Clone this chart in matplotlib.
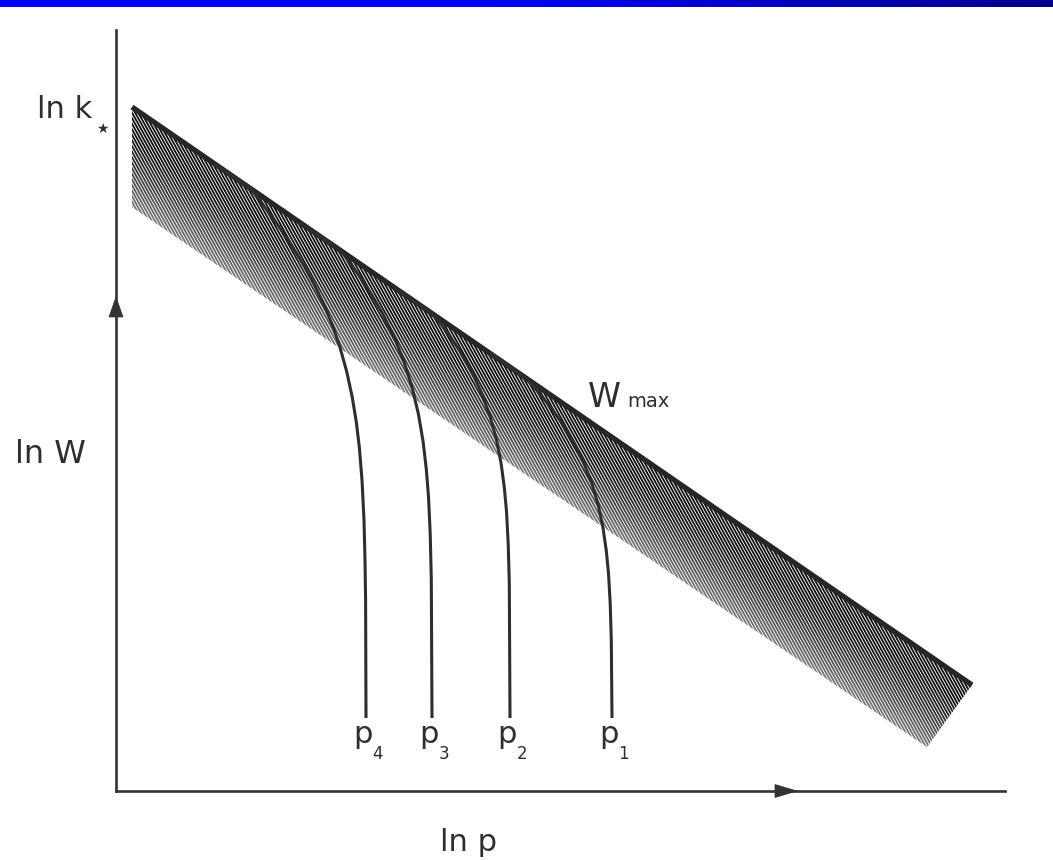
import numpy as np
import matplotlib
matplotlib.use("Agg")
import matplotlib.pyplot as plt
from matplotlib.collections import LineCollection
from matplotlib.patches import Polygon

# ---------------- data (ln p, ln W in arbitrary units, origin at axes crossing) ----
wmax_lnp = [0.16, 8.56]
wmax_lnW = [6.84, 1.06]
band_lower_lnp = [0.16, 8.11]
band_lower_lnW = [5.84, 0.44]

p4_lnp = [0.99, 1.16, 1.34, 1.434, 1.546, 1.653, 1.766, 1.876, 1.985, 2.081, 2.163,
          2.239, 2.308, 2.362, 2.403, 2.433, 2.460, 2.480, 2.490, 2.496, 2.50]
p4_lnW = [6.269, 6.152, 6.03, 5.91, 5.76, 5.61, 5.44, 5.26, 5.06, 4.86, 4.66,
          4.44, 4.19, 3.94, 3.69, 3.44, 3.11, 2.71, 2.31, 1.91, 0.73]
p3_lnp = [1.84, 2.04, 2.251, 2.334, 2.433, 2.554, 2.661, 2.776, 2.869, 2.958, 3.024,
          3.071, 3.103, 3.125, 3.142, 3.153, 3.16]
p3_lnW = [5.684, 5.547, 5.399, 5.289, 5.151, 4.967, 4.783, 4.553, 4.323, 4.047, 3.771,
          3.495, 3.219, 2.943, 2.575, 2.115, 0.73]
p2_lnp = [2.79, 2.98, 3.161, 3.244, 3.334, 3.441, 3.556, 3.649, 3.738, 3.804, 3.851,
          3.883, 3.905, 3.922, 3.933, 3.94]
p2_lnW = [5.031, 4.90, 4.78, 4.676, 4.556, 4.396, 4.196, 3.996, 3.756, 3.516, 3.276,
          3.036, 2.796, 2.476, 2.076, 0.73]
p1_lnp = [3.74, 3.92, 4.10, 4.181, 4.264, 4.354, 4.461, 4.576, 4.669, 4.758, 4.824,
          4.871, 4.903, 4.925, 4.942, 4.953, 4.96]
p1_lnW = [4.377, 4.253, 4.127, 4.037, 3.940, 3.827, 3.677, 3.490, 3.302, 3.077, 2.852,
          2.627, 2.402, 2.177, 1.877, 1.502, 0.73]

curve_names = ["4", "3", "2", "1"]
curves_lnp = [p4_lnp, p3_lnp, p2_lnp, p1_lnp]
curves_lnW = [p4_lnW, p3_lnW, p2_lnW, p1_lnW]

axis_x_end = 8.89
axis_y_end = 7.61

# ---------------- figure --------------------------------------------------------
W_PX, H_PX = 1053, 860
fig = plt.figure(figsize=(W_PX / 100, H_PX / 100), dpi=100)
fig.patch.set_facecolor("white")
ax = fig.add_axes([0, 0, 1, 1])
ax.set_xlim(-1.16, 9.37)
ax.set_ylim(-0.69, 7.91)
ax.axis("off")

ink = "#2e2e2e"
plt.rcParams["font.family"] = ["DejaVu Sans"]

# ---------------- hatched band under W_max ---------------------------------------
x0, y0 = wmax_lnp[0], wmax_lnW[0]
m_top = (wmax_lnW[1] - y0) / (wmax_lnp[1] - x0)
lx0, ly0 = band_lower_lnp[0], band_lower_lnW[0]
m_low = (band_lower_lnW[1] - ly0) / (band_lower_lnp[1] - lx0)
theta = np.deg2rad(61)
c, s = np.cos(theta), np.sin(theta)
spacing = 0.05
segs = []
for xt in np.arange(x0 - 1.0, wmax_lnp[1] + 0.01, spacing):
    yt = y0 + m_top * (xt - x0)
    u_end = (yt - ly0 - m_low * (xt - lx0)) / (s + m_low * c) + 0.03
    segs.append([(xt, yt), (xt + c * u_end, yt - s * u_end)])
band = Polygon([(wmax_lnp[0], wmax_lnW[0]), (wmax_lnp[1], wmax_lnW[1]),
                (band_lower_lnp[1], band_lower_lnW[1]),
                (band_lower_lnp[0], band_lower_lnW[0])],
               closed=True, facecolor="none", edgecolor="none")
ax.add_patch(band)
lc = LineCollection(segs, colors="#0e0e0e", linewidths=1.3, capstyle="butt", zorder=2)
ax.add_collection(lc)
lc.set_clip_path(band)

# white fade toward the lower edge of the band
gx = np.linspace(0.0, 8.7, 900)
gy = np.linspace(0.3, 7.0, 700)
GX, GY = np.meshgrid(gx, gy)
ytop = y0 + m_top * (GX - x0)
ylow = ly0 + m_low * (GX - lx0)
depth = np.clip((ytop - GY) / (ytop - ylow), 0, 1)
alpha = np.clip((depth - 0.25) / 0.75, 0, 1) ** 1.3 * 0.45
rgba = np.ones(GX.shape + (4,))
rgba[..., 3] = alpha
im = ax.imshow(rgba, extent=[gx[0], gx[-1], gy[0], gy[-1]], origin="lower",
               aspect="auto", interpolation="bilinear", zorder=2.5)
im.set_clip_path(band)

# ---------------- W_max line -----------------------------------------------------
ax.plot(wmax_lnp, wmax_lnW, color="#262626", lw=3.8, solid_capstyle="butt", zorder=4)

# ---------------- p curves -------------------------------------------------------
for xs, ys in zip(curves_lnp, curves_lnW):
    ax.plot(xs, ys, color=ink, lw=2.2, solid_joinstyle="round",
            solid_capstyle="butt", zorder=5)

# ---------------- axes with mid arrows -------------------------------------------
ax.plot([0, 0], [0, axis_y_end], color="#333333", lw=1.9, zorder=3)
ax.plot([0, axis_x_end], [0, 0], color="#333333", lw=1.9, zorder=3)
ax.add_patch(Polygon([(-0.07, 4.74), (0.07, 4.74), (0, 4.94)], closed=True,
                     facecolor="#333333", edgecolor="#333333", lw=0.5, zorder=3))
ax.add_patch(Polygon([(6.59, -0.065), (6.59, 0.065), (6.81, 0)], closed=True,
                     facecolor="#333333", edgecolor="#333333", lw=0.5, zorder=3))

# ---------------- labels ---------------------------------------------------------
fs = 22
ax.text(-0.79, 6.73, "ln k", fontsize=fs, color=ink, ha="left", va="baseline")
ax.text(-0.135, 6.58, "\u2605", fontsize=10, color=ink, ha="center", va="baseline")
ax.text(-1.01, 3.28, "ln W", fontsize=23, color=ink, ha="left", va="baseline")
ax.text(3.24, -0.60, "ln p", fontsize=fs, color=ink, ha="left", va="baseline")
ax.text(4.72, 3.84, "W", fontsize=24, color=ink, ha="left", va="baseline")
ax.text(5.11, 3.84, "max", fontsize=14, color=ink, ha="left", va="baseline")

for name, xs in zip(curve_names, curves_lnp):
    xv = xs[-1]
    ax.text(xv - 0.03, 0.48, "p", fontsize=fs, color=ink, ha="center", va="baseline")
    ax.text(xv + 0.065, 0.32, name, fontsize=12, color=ink, ha="left", va="baseline")

# ---------------- blue bar at the top --------------------------------------------
bar = fig.add_axes([0, 1 - 7 / H_PX, 1, 7 / H_PX])
t = np.linspace(0, 1, 512)
blue = np.where(t < 0.45, 1.0, 1.0 - (t - 0.45) / 0.55 * 0.45)
grad = np.zeros((1, t.size, 3))
grad[0, :, 2] = blue
bar.imshow(grad, aspect="auto", extent=[0, 1, 0, 1])
bar.axis("off")

fig.savefig("out.png", dpi=100)
